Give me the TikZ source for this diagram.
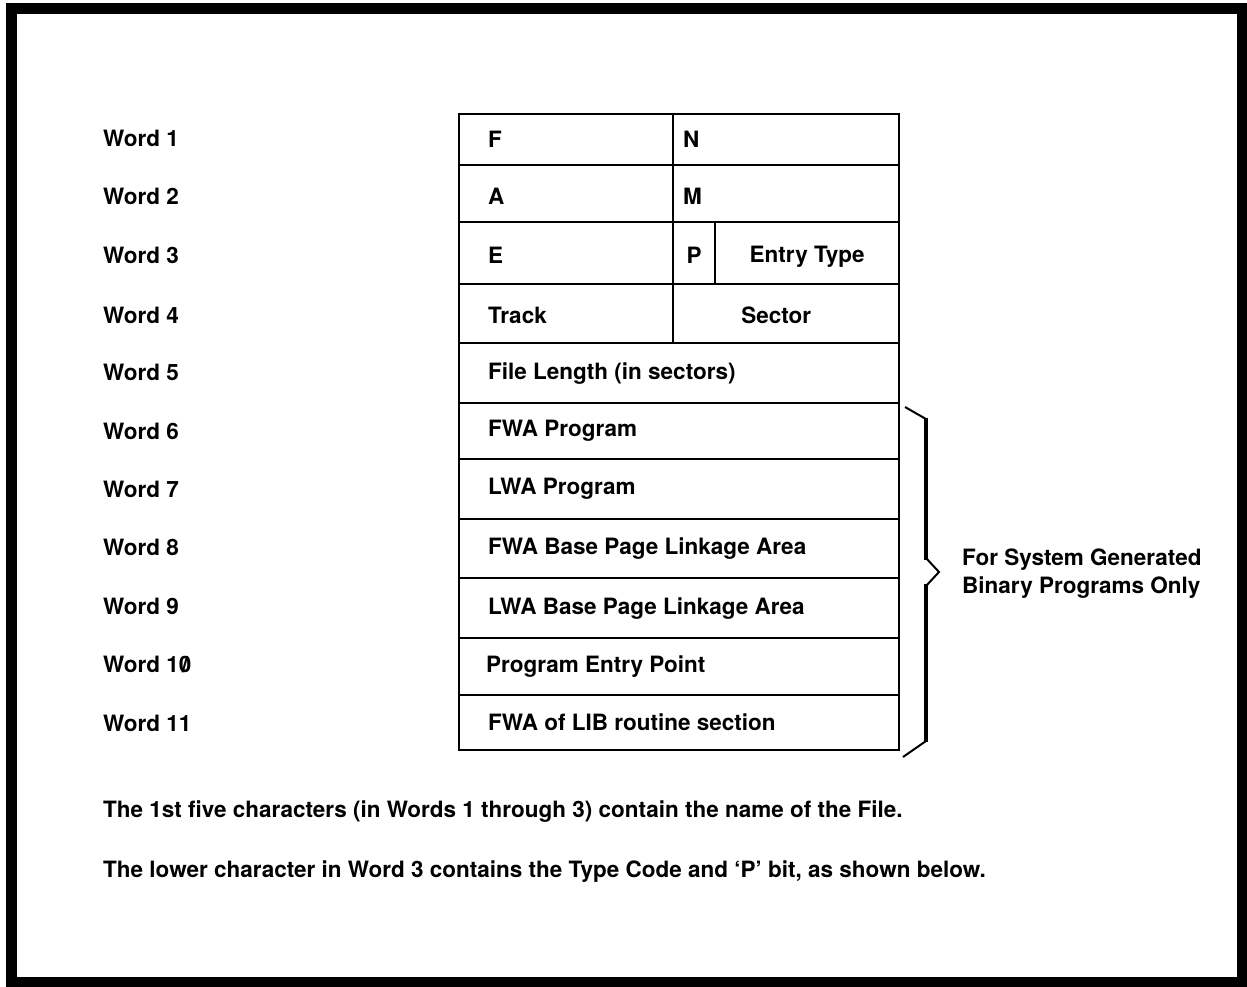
\documentclass[tikz,border=0pt]{standalone}
\usepackage{fontspec}
\setmainfont{TeX Gyre Heros}
\usetikzlibrary{positioning}
\newcommand{\slzero}{\ooalign{0\cr\hidewidth/\hidewidth}}

\begin{document}
\begin{tikzpicture}[x=1pt, y=-1pt,
    cell/.style={draw, line width=2.4pt, anchor=north west, inner sep=0pt},
    txt/.style={anchor=west, inner sep=0pt, font=\fontsize{22.5}{28}\selectfont\bfseries},
    ctxt/.style={inner sep=0pt, font=\fontsize{22.5}{28}\selectfont\bfseries}]
    \useasboundingbox (0,0) rectangle (1247,987);
    \draw[line width=11pt] (11,9) rectangle (1242,982);

    % the eleven words
    \node[cell, minimum width=214, minimum height=51] (f) at (458,113) {};
    \node[cell, minimum width=226, minimum height=51] (n) at (672,113) {};
    \node[cell, minimum width=214, minimum height=57] (a) at (458,164) {};
    \node[cell, minimum width=226, minimum height=57] (m) at (672,164) {};
    \node[cell, minimum width=214, minimum height=62] (e) at (458,221) {};
    \node[cell, minimum width=42, minimum height=62] (p) at (672,221) {};
    \node[cell, minimum width=184, minimum height=62] (etype) at (714,221) {};
    \node[cell, minimum width=214, minimum height=59] (track) at (458,283) {};
    \node[cell, minimum width=226, minimum height=59] (sector) at (672,283) {};
    \node[cell, minimum width=440, minimum height=60] (flen) at (458,342) {};
    \node[cell, minimum width=440, minimum height=56] (fwap) at (458,402) {};
    \node[cell, minimum width=440, minimum height=60] (lwap) at (458,458) {};
    \node[cell, minimum width=440, minimum height=59] (fwab) at (458,518) {};
    \node[cell, minimum width=440, minimum height=60] (lwab) at (458,577) {};
    \node[cell, minimum width=440, minimum height=57] (pep) at (458,637) {};
    \node[cell, minimum width=440, minimum height=55] (fwal) at (458,694) {};

    \node[txt] (f-t) at ([xshift=30]f.west) {F};
    \node[txt] (n-t) at ([xshift=11]n.west) {N};
    \node[txt] (a-t) at ([xshift=30,yshift=-3]a.west) {A};
    \node[txt] (m-t) at ([xshift=11,yshift=-3]m.west) {M};
    \node[txt] (e-t) at ([xshift=30,yshift=-2]e.west) {E};
    \node[ctxt] (p-t) at ([yshift=-2]p.center) {P};
    \node[ctxt] (etype-t) at ([yshift=-4]etype.center) {Entry Type};
    \node[txt] (track-t) at ([xshift=30,yshift=-2]track.west) {Track};
    \node[ctxt] (sector-t) at ([xshift=-10,yshift=-2]sector.center) {Sector};
    \node[txt] (flen-t) at ([xshift=30]flen.west) {File Length (in sectors)};
    \node[txt] (fwap-t) at ([xshift=30]fwap.west) {FWA Program};
    \node[txt] (lwap-t) at ([xshift=30]lwap.west) {LWA Program};
    \node[txt] (fwab-t) at ([xshift=30]fwab.west) {FWA Base Page Linkage Area};
    \node[txt] (lwab-t) at ([xshift=30]lwab.west) {LWA Base Page Linkage Area};
    \node[txt] (pep-t) at ([xshift=28]pep.west) {Program Entry Point};
    \node[txt] (fwal-t) at ([xshift=30]fwal.west) {FWA of LIB routine section};

    % word numbers
    \node[txt] (w1) at (103,138) {Word 1};
    \node[txt] (w2) at (103,196) {Word 2};
    \node[txt] (w3) at (103,255) {Word 3};
    \node[txt] (w4) at (103,315) {Word 4};
    \node[txt] (w5) at (103,372) {Word 5};
    \node[txt] (w6) at (103,431) {Word 6};
    \node[txt] (w7) at (103,489) {Word 7};
    \node[txt] (w8) at (103,547) {Word 8};
    \node[txt] (w9) at (103,606) {Word 9};
    \node[txt] (w10) at (103,664) {Word 1\slzero};
    \node[txt] (w11) at (103,723) {Word 11};

    % brace
    \coordinate (br-top) at (905,407);
    \coordinate (br-mid) at (939,572);
    \coordinate (br-bot) at (903,757);
    \draw[line width=2pt] (br-top) -- (926,419);
    \draw[line width=4.5pt] (926,418) -- (926,560);
    \draw[line width=2pt] (926,558) -- (br-mid) -- (926,586);
    \draw[line width=4.5pt] (926,584) -- (926,742);
    \draw[line width=2pt] (926,741) -- (br-bot);
    \node[txt, align=left] (only) at (962,574) {For System Generated\\Binary Programs Only};

    % notes
    \node[txt] (note1) at (103,812) {The 1st five characters (in Words 1 through 3) contain the name of the File.};
    \node[txt] (note2) at (103,872) {The lower character in Word 3 contains the Type Code and `P' bit, as shown below.};
\end{tikzpicture}
\end{document}
